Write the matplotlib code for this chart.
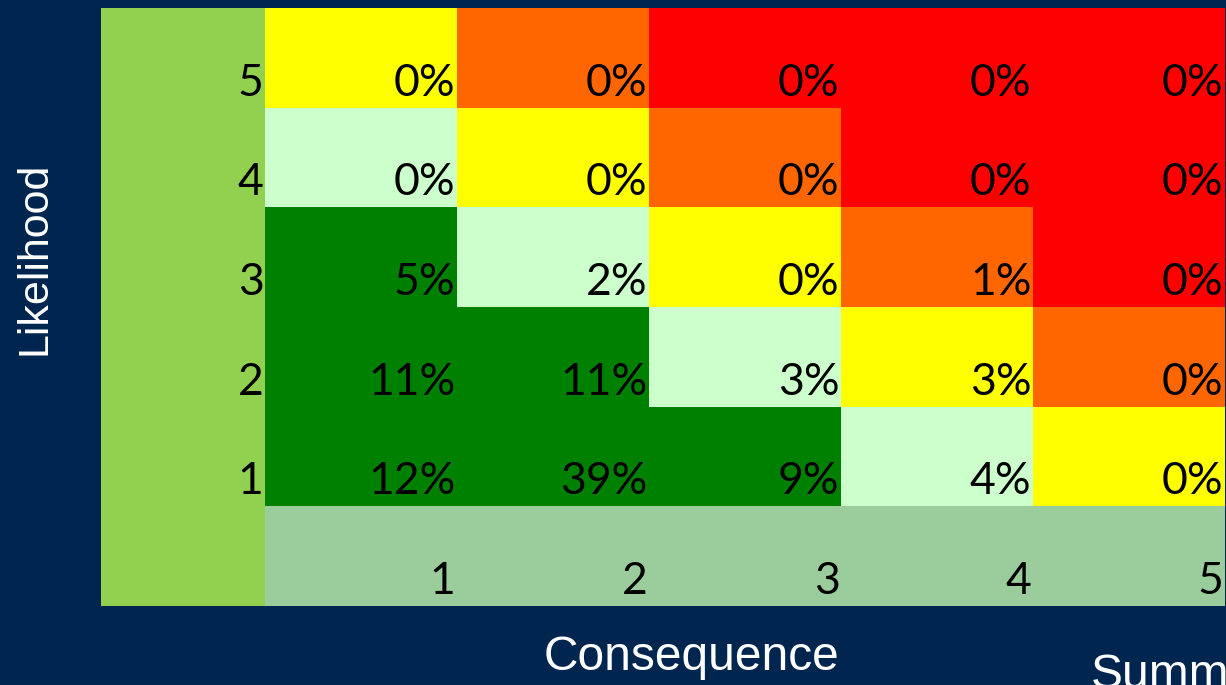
import numpy as np
import matplotlib
matplotlib.use('Agg')
import matplotlib.pyplot as plt
from matplotlib.colors import ListedColormap, BoundaryNorm
from matplotlib.patches import Rectangle

# risk matrix data (rows: likelihood 1..5, cols: consequence 1..5)
likelihood = [1, 2, 3, 4, 5]
consequence = [1, 2, 3, 4, 5]
share = [
    [12, 39, 9, 4, 0],   # L=1
    [11, 11, 3, 3, 0],   # L=2
    [5, 2, 0, 1, 0],     # L=3
    [0, 0, 0, 0, 0],     # L=4
    [0, 0, 0, 0, 0],     # L=5
]
# risk level per cell: 0 low .. 4 extreme
level = [
    [0, 0, 0, 1, 2],
    [0, 0, 1, 2, 3],
    [0, 1, 2, 3, 4],
    [1, 2, 3, 4, 4],
    [2, 3, 4, 4, 4],
]
level_colors = ['#008000', '#CCFFCC', '#FFFF00', '#FF6600', '#FF0000']

bg = '#00264F'
label_col = '#92D050'
label_row = '#9BCC9B'

fig = plt.figure(figsize=(12.26, 6.85), dpi=100, facecolor=bg)
W, H = 1226, 685
ax = fig.add_axes([101 / W, 1 - 606 / H, (1225 - 101) / W, (606 - 8) / H])
ax.axis('off')

lab_w = 164 / 192
ax.set_xlim(-lab_w, 5)
ax.set_ylim(0, 6)

# label column and label row
ax.add_patch(Rectangle((-lab_w, 0), lab_w, 6, color=label_col, lw=0))
ax.add_patch(Rectangle((0, 0), 5, 1, color=label_row, lw=0))

cmap = ListedColormap(level_colors)
norm = BoundaryNorm(np.arange(-0.5, 5.5, 1), cmap.N)
ax.pcolormesh(np.arange(0, 6), np.arange(1, 7), np.array(level), cmap=cmap, norm=norm,
              shading='flat')

num_font = dict(family='Lato', size=32, color='black', ha='right', va='baseline')
dx = 1.5 / 192
dy = 0.12
for i, L in enumerate(likelihood):
    for j, C in enumerate(consequence):
        ax.text(j + 1 - dx, i + 1 + dy, f'{share[i][j]}%', **num_font)
    ax.text(-dx, i + 1 + dy, str(L), **num_font)
for j, C in enumerate(consequence):
    ax.text(j + 1 - dx, dy, str(C), **num_font)

fig.text(35 / W, 1 - 258 / H, 'Likelihood', rotation=90, ha='center', va='center',
         family='Liberation Sans', size=31, color='white')
fig.text(691 / W, 1 - 657 / H, 'Consequence', ha='center', va='center',
         family='Liberation Sans', size=34.5, color='white')
fig.text(1091 / W, 1 - 653 / H, 'Summary', ha='left', va='top',
         family='Liberation Sans', size=34.5, color='white')

fig.savefig('out.png', dpi=100, facecolor=bg)
